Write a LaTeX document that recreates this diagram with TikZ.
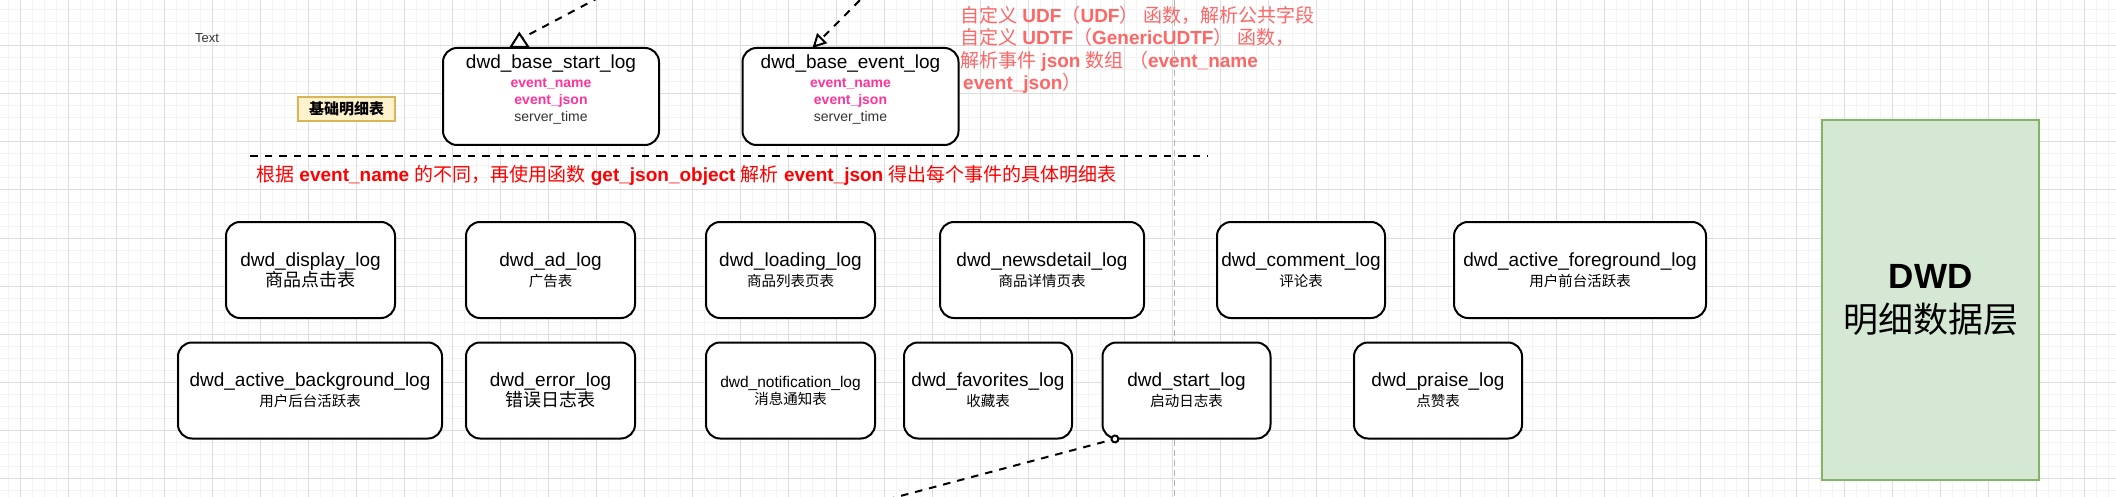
\documentclass[tikz,border=0pt]{standalone}
\usepackage{fontspec}
\setmainfont{Liberation Sans}
\newfontfamily\cjk{Noto Sans CJK SC}
\usetikzlibrary{arrows.meta}

\newcommand{\zh}[1]{{\cjk #1}}
\newcommand{\fsz}[2]{\fontsize{#1pt}{#2pt}\selectfont}

\begin{document}
\begin{tikzpicture}[x=1pt, y=-1pt,
        logbox/.style={draw=black, line width=2pt, rounded corners=14pt, fill=white, align=center, inner sep=0pt, minimum width=169pt, minimum height=96pt, font=\fsz{19}{20}},
        basebox/.style={logbox, minimum width=216pt, minimum height=97pt, text depth=17pt, font=\fsz{19}{17}},
        gridmin/.style={draw=gridminor, line width=1pt},
        gridmaj/.style={draw=gridmajor, line width=1pt},
        sepline/.style={draw=black, line width=2pt, dash pattern=on 7.5pt off 7pt},
        guide/.style={draw=guidegray, line width=1.5pt, dash pattern=on 6pt off 4pt}]
        \definecolor{gridmajor}{HTML}{DDDDDD}
        \definecolor{gridminor}{HTML}{F3F3F3}
        \definecolor{guidegray}{HTML}{B3B3B3}
        \definecolor{fieldpink}{HTML}{FF3399}
        \definecolor{udfpink}{HTML}{FF6666}
        \definecolor{textgray}{HTML}{333333}
        \definecolor{tagfill}{HTML}{FFF2CC}
        \definecolor{tagline}{HTML}{D6B656}
        \definecolor{dwdfill}{HTML}{D5E8D4}
        \definecolor{dwdline}{HTML}{82B366}

        \useasboundingbox (0,0) rectangle (2116,497);
        \clip (0,0) rectangle (2116,497);
        \fill[white] (0,0) rectangle (2116,497);
        \foreach \gx in {8,20,...,2116} \draw[gridmin] (\gx,0) -- (\gx,497);
        \foreach \gy in {10,22,...,497} \draw[gridmin] (0,\gy) -- (2116,\gy);
        \foreach \gx in {20,68,...,2116} \draw[gridmaj] (\gx,0) -- (\gx,497);
        \foreach \gy in {46,94,...,497} \draw[gridmaj] (0,\gy) -- (2116,\gy);

        \coordinate (vtop) at (1174.5,0);
        \coordinate (vbot) at (1174.5,497);
        \draw[guide] (vtop) -- (vbot);

        \node[text=textgray, font=\fsz{13}{14}] (hint) at (207,38) {Text};
        \node[draw=tagline, fill=tagfill, line width=1.5pt, minimum width=97pt, minimum height=24pt, inner sep=0pt, font=\fsz{15}{16}] (tag) at (346.5,109) {\zh{\bfseries 基础明细表}};

        \node[basebox] (basestart) at (551,96.5) {dwd\_base\_start\_log\\[2pt]{\fsz{14}{17}\color{fieldpink}\bfseries event\_name}\\{\fsz{14}{17}\color{fieldpink}\bfseries event\_json}\\{\fsz{14}{17}\color{textgray}server\_time}};
        \node[basebox] (baseevent) at (850.5,96.5) {dwd\_base\_event\_log\\[2pt]{\fsz{14}{17}\color{fieldpink}\bfseries event\_name}\\{\fsz{14}{17}\color{fieldpink}\bfseries event\_json}\\{\fsz{14}{17}\color{textgray}server\_time}};

        \coordinate (inS) at (613,-10);
        \coordinate (triS) at (521.5,38.5);
        \draw[sepline] (inS) -- (triS);
        \draw[line width=2pt, fill=white] (510.7,47) -- (519.3,33.5) -- (528.3,47) -- cycle;
        \coordinate (inE) at (870,-10);
        \coordinate (tipE) at (812.4,48);
        \draw[sepline, -{Triangle[fill=white, length=14pt, width=14pt]}] (inE) -- (tipE);

        \node[anchor=north west, align=left, inner sep=0pt, text=udfpink, font=\fsz{19}{22.5}] (udf) at (960,6) {\zh{自定义} \textbf{UDF}\zh{（}\textbf{UDF}\zh{）} \zh{函数，解析公共字段}\\\zh{自定义} \textbf{UDTF}\zh{（}\textbf{GenericUDTF}\zh{）} \zh{函数，}\\\zh{解析事件} \textbf{json} \zh{数组} \zh{（}\textbf{event\_name}\\\hspace*{3pt}\textbf{event\_json}\zh{）}};

        \coordinate (sepL) at (250,156);
        \coordinate (sepR) at (1208,156);
        \draw[sepline] (sepL) -- (sepR);
        \node[anchor=west, inner sep=0pt, text=red, font=\fsz{19}{20}] (note) at (256,175) {\zh{根据} \textbf{event\_name} \zh{的不同，再使用函数} \textbf{get\_json\_object} \zh{解析} \textbf{event\_json} \zh{得出每个事件的具体明细表}};

        \node[logbox] (display) at (310.5,270) {dwd\_display\_log\\\zh{\fsz{18}{20}商品点击表}};
        \node[logbox] (ad) at (550.5,270) {dwd\_ad\_log\\\zh{\fsz{14.5}{20}广告表}};
        \node[logbox] (loading) at (790.5,270) {dwd\_loading\_log\\\zh{\fsz{14.5}{20}商品列表页表}};
        \node[logbox, minimum width=204pt] (newsdetail) at (1042,270) {dwd\_newsdetail\_log\\\zh{\fsz{14.5}{20}商品详情页表}};
        \node[logbox, minimum width=168pt] (comment) at (1301,270) {dwd\_comment\_log\\\zh{\fsz{14.5}{20}评论表}};
        \node[logbox, minimum width=252pt] (foreground) at (1580,270) {dwd\_active\_foreground\_log\\\zh{\fsz{14.5}{20}用户前台活跃表}};

        \node[logbox, minimum width=264pt] (background) at (310,390.5) {dwd\_active\_background\_log\\\zh{\fsz{14.5}{20}用户后台活跃表}};
        \node[logbox] (error) at (550.5,390.5) {dwd\_error\_log\\\zh{\fsz{18}{20}错误日志表}};
        \node[logbox, font=\fsz{15.5}{17}] (notification) at (790.5,390.5) {dwd\_notification\_log\\\zh{\fsz{14.5}{17}消息通知表}};
        \node[logbox, minimum width=168pt] (favorites) at (988,390.5) {dwd\_favorites\_log\\\zh{\fsz{14.5}{20}收藏表}};
        \node[logbox, minimum width=168pt] (startlog) at (1186.5,390.5) {dwd\_start\_log\\\zh{\fsz{14.5}{20}启动日志表}};
        \node[logbox, minimum width=168pt] (praise) at (1438,390.5) {dwd\_praise\_log\\\zh{\fsz{14.5}{20}点赞表}};

        \coordinate (outB) at (859,507);
        \coordinate (ringB) at (1119.3,437.8);
        \draw[sepline, -{Circle[fill=white, length=9pt]}] (outB) -- (ringB);

        \node[draw=dwdline, fill=dwdfill, line width=1.5pt, minimum width=217pt, minimum height=360pt, align=center, font=\fsz{35}{44}] (dwd) at (1930.5,300) {\textbf{DWD}\\\zh{明细数据层}};
    \end{tikzpicture}
\end{document}
